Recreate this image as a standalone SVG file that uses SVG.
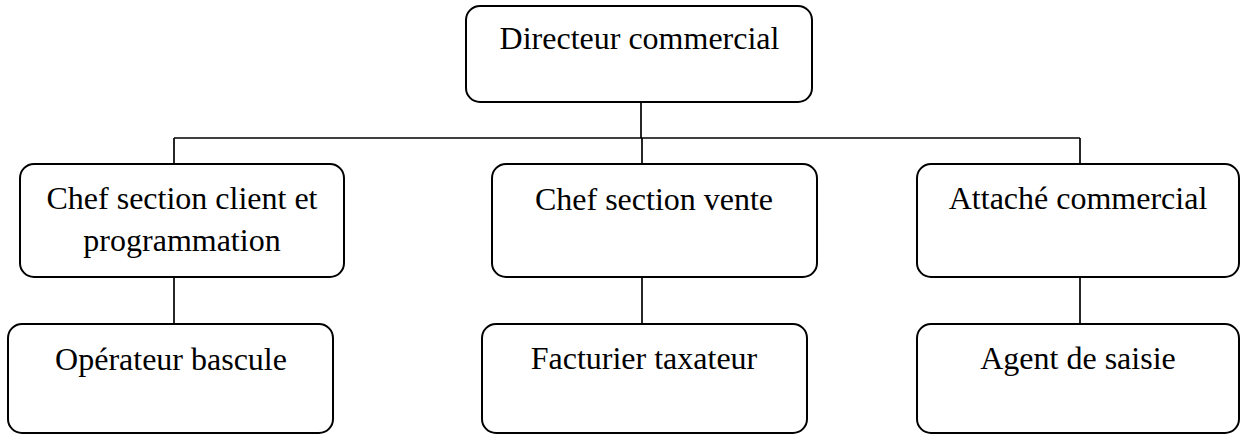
<svg xmlns="http://www.w3.org/2000/svg" width="1241" height="435" viewBox="0 0 1241 435">
  <style>
    .box { fill: #ffffff; stroke: #000000; stroke-width: 2; }
    .lbl { font-family: "Liberation Serif", "Times New Roman", serif; font-size: 32px; fill: #000000; text-anchor: middle; }
    .link { fill: none; stroke: #000000; stroke-width: 1.7; }
  </style>
  <rect width="1241" height="435" fill="#ffffff"/>

  <!-- connectors -->
  <g id="connectors">
    <path class="link" d="M641,102 V138"/>
    <path class="link" d="M174,138 H1080"/>
    <path class="link" d="M174,138 V164"/>
    <path class="link" d="M642,138 V164"/>
    <path class="link" d="M1080,138 V164"/>
    <path class="link" d="M174,277 V324"/>
    <path class="link" d="M642,277 V324"/>
    <path class="link" d="M1080,277 V324"/>
  </g>

  <!-- top level -->
  <g id="directeur-commercial">
    <rect class="box" x="466" y="6" width="346" height="96" rx="14"/>
    <text class="lbl" x="639.5" y="49">Directeur commercial</text>
  </g>

  <!-- section heads -->
  <g id="chef-section-client">
    <rect class="box" x="20" y="164" width="324" height="113" rx="14"/>
    <text class="lbl" x="182" y="209">Chef section client et</text>
    <text class="lbl" x="182" y="251">programmation</text>
  </g>
  <g id="chef-section-vente">
    <rect class="box" x="492" y="164" width="325" height="113" rx="14"/>
    <text class="lbl" x="654" y="210">Chef section vente</text>
  </g>
  <g id="attache-commercial">
    <rect class="box" x="917" y="164" width="322" height="113" rx="14"/>
    <text class="lbl" x="1078" y="209">Attaché commercial</text>
  </g>

  <!-- staff -->
  <g id="operateur-bascule">
    <rect class="box" x="8" y="324" width="325" height="109" rx="14"/>
    <text class="lbl" x="171" y="370">Opérateur bascule</text>
  </g>
  <g id="facturier-taxateur">
    <rect class="box" x="482" y="324" width="325" height="109" rx="14"/>
    <text class="lbl" x="644" y="369">Facturier taxateur</text>
  </g>
  <g id="agent-de-saisie">
    <rect class="box" x="917" y="324" width="322" height="109" rx="14"/>
    <text class="lbl" x="1078" y="369">Agent de saisie</text>
  </g>
</svg>
